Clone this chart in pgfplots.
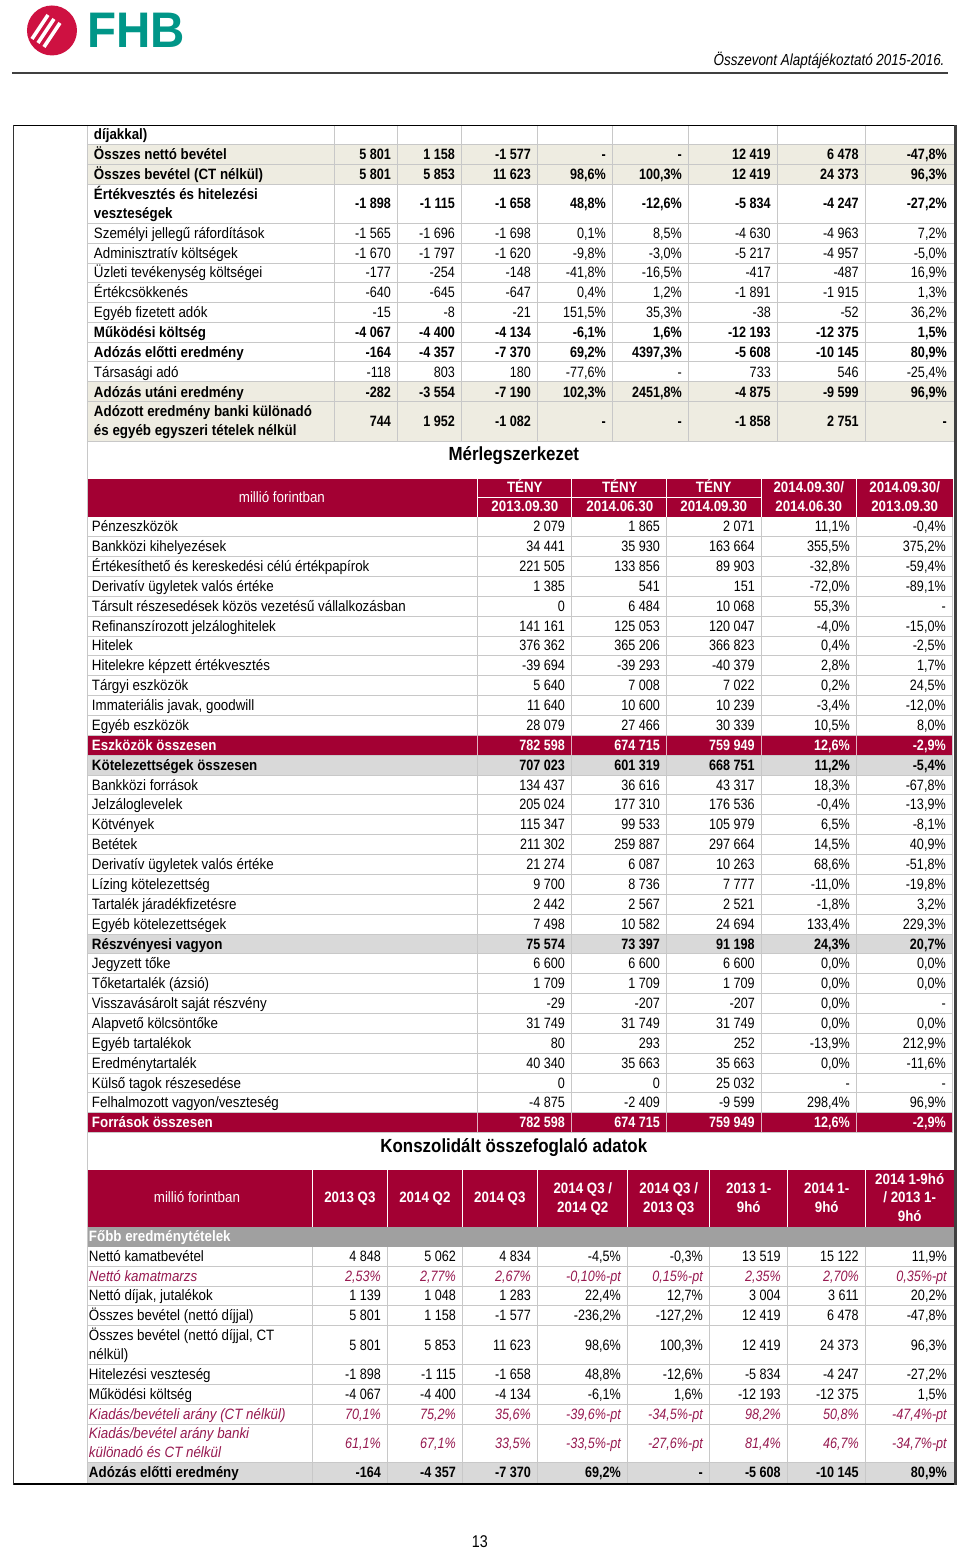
\documentclass[border=0pt]{standalone}
\usepackage{fontspec}
\setmainfont{Liberation Sans}[FakeStretch=0.84]
\newfontfamily\lab{Liberation Sans}[FakeStretch=0.89]
\newfontfamily\logofont{Liberation Sans}[FakeStretch=0.95]
\usepackage{xcolor}
\usepackage{pgfplots}
\usepackage{pgfplotstable}
\pgfplotsset{compat=1.18}

\definecolor{crim}{RGB}{163,0,51}
\definecolor{beige}{RGB}{238,236,225}
\definecolor{lgray}{RGB}{217,217,217}
\definecolor{mgray}{RGB}{160,160,160}
\definecolor{gridc}{RGB}{200,200,200}
\definecolor{plum}{RGB}{150,25,80}
\definecolor{fhbred}{RGB}{206,17,65}
\definecolor{fhbteal}{RGB}{0,150,136}

\newcommand\nrm{\fontsize{15}{17}\selectfont}
\newcommand\lrm{\lab\fontsize{15}{17}\selectfont}

\pgfplotsset{
  txt/.style={draw=none, forget plot, point meta=explicit symbolic,
    nodes near coords={\pgfplotspointmeta},
    every node near coord/.append style={inner sep=0pt, outer sep=0pt, text=black}},
  tn/.style={every node near coord/.append style={font=#1}},
  tb/.style={every node near coord/.append style={font=#1\bfseries}},
  tw/.style={every node near coord/.append style={font=#1\bfseries, text=white}},
  ti/.style={every node near coord/.append style={font=#1\itshape, text=plum}},
}
% values: one plot per column, right aligned at the x in the column name
\newcommand\vals[3]{\pgfplotsinvokeforeach{#2}{\addplot[txt,#3=\nrm,every node near coord/.append style={anchor=base east}] table[x expr=##1, y expr=\thisrow{y}+5, meta=c##1]{#1};}}
% row labels, left aligned
\newcommand\labs[3]{\addplot[txt,#3=\lrm,every node near coord/.append style={anchor=base west}] table[x expr=#2, y expr=\thisrow{y}+5, meta=t]{#1};}

% ---------- income statement (continued) ----------
\pgfplotstableread[col sep=semicolon]{
y;t
135;díjakkal)
155;Összes nettó bevétel
175;Összes bevétel (CT nélkül)
195;Értékvesztés és hitelezési
214;veszteségek
333;Működési költség
353;Adózás előtti eredmény
393;Adózás utáni eredmény
412;Adózott eredmény banki különadó
431;és egyéb egyszeri tételek nélkül
}\TopLabB
\pgfplotstableread[col sep=semicolon]{
y;t
234;Személyi jellegű ráfordítások
254;Adminisztratív költségek
273;Üzleti tevékenység költségei
293;Értékcsökkenés
313;Egyéb fizetett adók
373;Társasági adó
}\TopLabN
\pgfplotstableread[col sep=semicolon]{
y;c391;c455;c531;c606;c682;c771;c859;c947
155;5 801;1 158;-1 577;-;-;12 419;6 478;-47,8\%
175;5 801;5 853;11 623;98,6\%;100,3\%;12 419;24 373;96,3\%
204;-1 898;-1 115;-1 658;48,8\%;-12,6\%;-5 834;-4 247;-27,2\%
333;-4 067;-4 400;-4 134;-6,1\%;1,6\%;-12 193;-12 375;1,5\%
353;-164;-4 357;-7 370;69,2\%;4397,3\%;-5 608;-10 145;80,9\%
393;-282;-3 554;-7 190;102,3\%;2451,8\%;-4 875;-9 599;96,9\%
422;744;1 952;-1 082;-;-;-1 858;2 751;-
}\TopValB
\pgfplotstableread[col sep=semicolon]{
y;c391;c455;c531;c606;c682;c771;c859;c947
234;-1 565;-1 696;-1 698;0,1\%;8,5\%;-4 630;-4 963;7,2\%
254;-1 670;-1 797;-1 620;-9,8\%;-3,0\%;-5 217;-4 957;-5,0\%
273;-177;-254;-148;-41,8\%;-16,5\%;-417;-487;16,9\%
293;-640;-645;-647;0,4\%;1,2\%;-1 891;-1 915;1,3\%
313;-15;-8;-21;151,5\%;35,3\%;-38;-52;36,2\%
373;-118;803;180;-77,6\%;-;733;546;-25,4\%
}\TopValN

% ---------- balance sheet ----------
\pgfplotstableread[col sep=semicolon]{
y;t
527;Pénzeszközök
546.9;Bankközi kihelyezések
566.7;Értékesíthető és kereskedési célú értékpapírok
586.6;Derivatív ügyletek valós értéke
606.5;Társult részesedések közös vezetésű vállalkozásban
626.4;Refinanszírozott jelzáloghitelek
646.2;Hitelek
666.1;Hitelekre képzett értékvesztés
686;Tárgyi eszközök
705.8;Immateriális javak, goodwill
725.7;Egyéb eszközök
785.3;Bankközi források
805.2;Jelzáloglevelek
825.1;Kötvények
844.9;Betétek
864.8;Derivatív ügyletek valós értéke
884.7;Lízing kötelezettség
904.5;Tartalék járadékfizetésre
924.4;Egyéb kötelezettségek
964.1;Jegyzett tőke
984;Tőketartalék (ázsió)
1003.9;Visszavásárolt saját részvény
1023.8;Alapvető kölcsöntőke
1043.6;Egyéb tartalékok
1063.5;Eredménytartalék
1083.4;Külső tagok részesedése
1103.2;Felhalmozott vagyon/veszteség
}\BalLabN
\pgfplotstableread[col sep=semicolon]{
y;t
765.4;Kötelezettségek összesen
944.3;Részvényesi vagyon
}\BalLabB
\pgfplotstableread[col sep=semicolon]{
y;t
745.6;Eszközök összesen
1123.1;Források összesen
}\BalLabW
\pgfplotstableread[col sep=semicolon]{
y;c565;c660;c755;c850;c946
527;2 079;1 865;2 071;11,1\%;-0,4\%
546.9;34 441;35 930;163 664;355,5\%;375,2\%
566.7;221 505;133 856;89 903;-32,8\%;-59,4\%
586.6;1 385;541;151;-72,0\%;-89,1\%
606.5;0;6 484;10 068;55,3\%;-
626.4;141 161;125 053;120 047;-4,0\%;-15,0\%
646.2;376 362;365 206;366 823;0,4\%;-2,5\%
666.1;-39 694;-39 293;-40 379;2,8\%;1,7\%
686;5 640;7 008;7 022;0,2\%;24,5\%
705.8;11 640;10 600;10 239;-3,4\%;-12,0\%
725.7;28 079;27 466;30 339;10,5\%;8,0\%
785.3;134 437;36 616;43 317;18,3\%;-67,8\%
805.2;205 024;177 310;176 536;-0,4\%;-13,9\%
825.1;115 347;99 533;105 979;6,5\%;-8,1\%
844.9;211 302;259 887;297 664;14,5\%;40,9\%
864.8;21 274;6 087;10 263;68,6\%;-51,8\%
884.7;9 700;8 736;7 777;-11,0\%;-19,8\%
904.5;2 442;2 567;2 521;-1,8\%;3,2\%
924.4;7 498;10 582;24 694;133,4\%;229,3\%
964.1;6 600;6 600;6 600;0,0\%;0,0\%
984;1 709;1 709;1 709;0,0\%;0,0\%
1003.9;-29;-207;-207;0,0\%;-
1023.8;31 749;31 749;31 749;0,0\%;0,0\%
1043.6;80;293;252;-13,9\%;212,9\%
1063.5;40 340;35 663;35 663;0,0\%;-11,6\%
1083.4;0;0;25 032;-;-
1103.2;-4 875;-2 409;-9 599;298,4\%;96,9\%
}\BalValN
\pgfplotstableread[col sep=semicolon]{
y;c565;c660;c755;c850;c946
765.4;707 023;601 319;668 751;11,2\%;-5,4\%
944.3;75 574;73 397;91 198;24,3\%;20,7\%
}\BalValB
\pgfplotstableread[col sep=semicolon]{
y;c565;c660;c755;c850;c946
745.6;782 598;674 715;759 949;12,6\%;-2,9\%
1123.1;782 598;674 715;759 949;12,6\%;-2,9\%
}\BalValW

% ---------- consolidated summary ----------
\pgfplotstableread[col sep=semicolon]{
y;t
1257;Nettó kamatbevétel
1296;Nettó díjak, jutalékok
1316;Összes bevétel (nettó díjjal)
1336;Összes bevétel (nettó díjjal, CT
1355;nélkül)
1375;Hitelezési veszteség
1395;Működési költség
}\KonLabN
\pgfplotstableread[col sep=semicolon]{
y;t
1277;Nettó kamatmarzs
1415;Kiadás/bevételi arány (CT nélkül)
1434;Kiadás/bevétel arány banki
1453;különadó és CT nélkül
}\KonLabI
\pgfplotstableread[col sep=semicolon]{
y;t
1473;Adózás előtti eredmény
}\KonLabB
\pgfplotstableread[col sep=semicolon]{
y;t
1237;Főbb eredménytételek
}\KonLabW
\pgfplotstableread[col sep=semicolon]{
y;c381;c456;c531;c621;c703;c781;c859;c947
1257;4 848;5 062;4 834;-4,5\%;-0,3\%;13 519;15 122;11,9\%
1296;1 139;1 048;1 283;22,4\%;12,7\%;3 004;3 611;20,2\%
1316;5 801;1 158;-1 577;-236,2\%;-127,2\%;12 419;6 478;-47,8\%
1346;5 801;5 853;11 623;98,6\%;100,3\%;12 419;24 373;96,3\%
1375;-1 898;-1 115;-1 658;48,8\%;-12,6\%;-5 834;-4 247;-27,2\%
1395;-4 067;-4 400;-4 134;-6,1\%;1,6\%;-12 193;-12 375;1,5\%
}\KonValN
\pgfplotstableread[col sep=semicolon]{
y;c381;c456;c531;c621;c703;c781;c859;c947
1277;2,53\%;2,77\%;2,67\%;-0,10\%-pt;0,15\%-pt;2,35\%;2,70\%;0,35\%-pt
1415;70,1\%;75,2\%;35,6\%;-39,6\%-pt;-34,5\%-pt;98,2\%;50,8\%;-47,4\%-pt
1444;61,1\%;67,1\%;33,5\%;-33,5\%-pt;-27,6\%-pt;81,4\%;46,7\%;-34,7\%-pt
}\KonValI
\pgfplotstableread[col sep=semicolon]{
y;c381;c456;c531;c621;c703;c781;c859;c947
1473;-164;-4 357;-7 370;69,2\%;-;-5 608;-10 145;80,9\%
}\KonValB

\begin{document}
\begin{tikzpicture}
\begin{scope}[x=1pt,y=-1pt,yshift=1551pt]
\fill[white] (0,0) rectangle (960,1551);
% logo and page header
\fill[fhbred] (52,30.5) circle (25);
\begin{scope}
\clip (52,30.5) circle (25);
\foreach \k in {-1,0,1}
  \draw[white, line width=3.6] ({46+6*\k-8},{31+4*\k+12}) -- ({46+6*\k+8},{31+4*\k-12});
\end{scope}
\node[anchor=base west, inner sep=0pt, text=fhbteal, font=\logofont\fontsize{50}{50}\selectfont\bfseries] at (87,48) {FHB};
\node[anchor=base east, inner sep=0pt, font=\fontsize{16}{18}\selectfont\itshape] at (945,65.5) {Összevont Alaptájékoztató 2015-2016.};
\draw[black!75, line width=1.5] (12,73) -- (948,73);

% top table
\fill[beige] (87,145) rectangle (954,185);
\fill[beige] (87,382) rectangle (954,442);
\foreach \y in {145,165,185,224,244,264,283,303,323,343,362,382,402,442}
  \draw[gridc, line width=0.9] (87,\y) -- (954,\y);
\foreach \x in {335,398,462,538,613,689,778,866}
  \draw[gridc, line width=0.9] (\x,126) -- (\x,442);
\node[anchor=base, font=\lab\fontsize{19}{20}\selectfont\bfseries] at (514,461) {Mérlegszerkezet};

% balance sheet
\fill[crim] (87,479) rectangle (953,517);
\fill[crim] (87,735.6) rectangle (953,755.5);
\fill[crim] (87,1113.2) rectangle (953,1133);
\fill[lgray] (87,755.5) rectangle (953,775.4);
\fill[lgray] (87,934.3) rectangle (953,954.2);
\foreach \k in {1,...,30}
  \draw[gridc, line width=0.9] (87,{517+19.87*\k}) -- (953,{517+19.87*\k});
\foreach \x in {478,572,667,762,857} {
  \draw[gridc, line width=0.9] (\x,517) -- (\x,1133);
  \draw[white, line width=0.9] (\x,479) -- (\x,517);
  \draw[white!70!crim, line width=0.9] (\x,735.6) -- (\x,755.5);
  \draw[white!70!crim, line width=0.9] (\x,1113.2) -- (\x,1133);
}
\draw[white, line width=0.9] (478,498) -- (762,498);
\draw[gridc, line width=0.9] (953,517) -- (953,1133) -- (87,1133);
\node[anchor=base, text=white, font=\lrm] at (282,503) {millió forintban};
\foreach \x/\d in {525/2013.09.30, 620/2014.06.30, 714/2014.09.30} {
  \node[anchor=base, text=white, font=\lrm\bfseries] at (\x,493) {TÉNY};
  \node[anchor=base, text=white, font=\lrm\bfseries] at (\x,512) {\d};
}
\node[anchor=base, text=white, font=\lrm\bfseries] at (809,493) {2014.09.30/};
\node[anchor=base, text=white, font=\lrm\bfseries] at (809,512) {2014.06.30};
\node[anchor=base, text=white, font=\lrm\bfseries] at (905,493) {2014.09.30/};
\node[anchor=base, text=white, font=\lrm\bfseries] at (905,512) {2013.09.30};
\node[anchor=base, font=\lab\fontsize{19}{20}\selectfont\bfseries] at (514,1153) {Konszolidált összefoglaló adatok};

% consolidated table
\fill[crim] (87,1170) rectangle (954,1227);
\fill[mgray] (87,1227) rectangle (954,1247);
\fill[lgray] (87,1463) rectangle (954,1483);
\foreach \y in {1267,1287,1306,1326,1365,1385,1405,1425,1463}
  \draw[gridc, line width=0.9] (87,\y) -- (954,\y);
\foreach \x in {313,388,463,538,628,710,788,866} {
  \draw[gridc, line width=0.9] (\x,1247) -- (\x,1483);
  \draw[white, line width=0.9] (\x,1170) -- (\x,1227);
}
\node[anchor=base, text=white, font=\lrm] at (197,1203) {millió forintban};
\foreach \x/\d in {350/2013 Q3, 425/2014 Q2, 500/2014 Q3}
  \node[anchor=base, text=white, font=\lrm\bfseries] at (\x,1203) {\d};
\foreach \x/\a/\b in {583/2014 Q3 \slash/2014 Q2, 669/2014 Q3 \slash/2013 Q3, 749/2013 1-/9hó, 827/2014 1-/9hó} {
  \node[anchor=base, text=white, font=\lrm\bfseries] at (\x,1194) {\a};
  \node[anchor=base, text=white, font=\lrm\bfseries] at (\x,1213) {\b};
}
\node[anchor=base, text=white, font=\lrm\bfseries] at (910,1185) {2014 1-9hó};
\node[anchor=base, text=white, font=\lrm\bfseries] at (910,1203) {/ 2013 1-};
\node[anchor=base, text=white, font=\lrm\bfseries] at (910,1222) {9hó};

% page frame
\draw[gridc, line width=0.9] (87,125) -- (87,1484);
\draw[black!80, line width=1] (14,125) -- (14,1485);
\draw[black, line width=1.4] (14,125.5) -- (957,125.5);
\draw[black, line width=1.4] (14,1484.3) -- (957,1484.3);
\draw[black!75, line width=2.5] (956,125) -- (956,1485.5);
\node[anchor=base, font=\fontsize{17}{18}\selectfont] at (480,1548) {13};
\end{scope}

\begin{axis}[at={(0,0)}, anchor=south west, hide axis, scale only axis,
  width=960pt, height=1551pt, xmin=0, xmax=960, ymin=0, ymax=1551,
  y dir=reverse, clip=false, enlargelimits=false]
\labs{\TopLabB}{94}{tb}
\labs{\TopLabN}{94}{tn}
\vals{\TopValB}{391,455,531,606,682,771,859,947}{tb}
\vals{\TopValN}{391,455,531,606,682,771,859,947}{tn}
\labs{\BalLabN}{92}{tn}
\labs{\BalLabB}{92}{tb}
\labs{\BalLabW}{92}{tw}
\vals{\BalValN}{565,660,755,850,946}{tn}
\vals{\BalValB}{565,660,755,850,946}{tb}
\vals{\BalValW}{565,660,755,850,946}{tw}
\labs{\KonLabN}{89}{tn}
\labs{\KonLabI}{89}{ti}
\labs{\KonLabB}{89}{tb}
\labs{\KonLabW}{89}{tw}
\vals{\KonValN}{381,456,531,621,703,781,859,947}{tn}
\vals{\KonValI}{381,456,531,621,703,781,859,947}{ti}
\vals{\KonValB}{381,456,531,621,703,781,859,947}{tb}
\end{axis}
\end{tikzpicture}
\end{document}
